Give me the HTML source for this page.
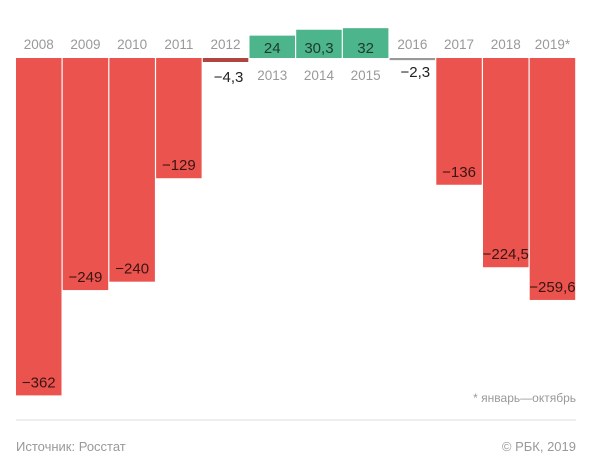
<!DOCTYPE html>
<html><head><meta charset="utf-8"><style>
body{margin:0;background:#fff;width:604px;height:462px;overflow:hidden;font-family:"Liberation Sans","Noto Sans CJK SC",sans-serif}
svg{display:block}
</style></head><body>
<svg width="604" height="462">
<g id="bars"></g>
<text x="576" y="402" text-anchor="end" font-size="12" fill="#999">* январь—октябрь</text>
<line x1="16" y1="420" x2="576" y2="420" stroke="#ddd"/>
<text x="16" y="451" font-size="13" fill="#999">Источник: Росстат</text>
<text x="576" y="451" text-anchor="end" font-size="13" fill="#999">© РБК, 2019</text>
</svg>
<script>
const years=["2008","2009","2010","2011","2012","2013","2014","2015","2016","2017","2018","2019*"];
const values=[-362,-249,-240,-129,-4.3,24,30.3,32,-2.3,-136,-224.5,-259.6];
const valueLabels=["−362","−249","−240","−129","−4,3","24","30,3","32","−2,3","−136","−224,5","−259,6"];
const base=58,k=0.932,left=16,step=46.7,bw=45.5;
const g=document.getElementById('bars');
const NS="http://www.w3.org/2000/svg";
function xs(i){return left+i*step;}
function ys(v){return base-v*k;}
function mk(t,a){const e=document.createElementNS(NS,t);for(const n in a)e.setAttribute(n,a[n]);g.appendChild(e);return e;}
values.forEach((v,i)=>{
  const x=xs(i),y0=ys(0),y1=ys(v);
  const small=Math.abs(v)<10;
  let fill=v>0?"#4db58b":"#ea534e";
  if(small) fill=i===4?"#b04440":"#999";
  const r=mk('rect',{x:x,y:Math.min(y0,y1),width:bw,height:Math.max(small?1.5:0,Math.abs(y1-y0)),fill:fill});
  
  
  const cx=x+bw/2;
  const yl=mk('text',{x:cx,y:v>0?80:49,'text-anchor':'middle','font-size':13.5,fill:'#999'});
  yl.textContent=years[i];
  
  
  const vl=mk('text',{'text-anchor':'middle','font-size':15,fill:v>0?'#1d3b2c':'#222'});
  if(v>0){vl.setAttribute('x',cx);vl.setAttribute('y',53);}
  else if(small){vl.setAttribute('x',cx+3);vl.setAttribute('y',i===4?82:77);}
  else{vl.setAttribute('x',cx);vl.setAttribute('y',y1-8);vl.setAttribute('fill','#3a1512');}
  vl.textContent=valueLabels[i];
  
  
});
</script>
</body></html>
